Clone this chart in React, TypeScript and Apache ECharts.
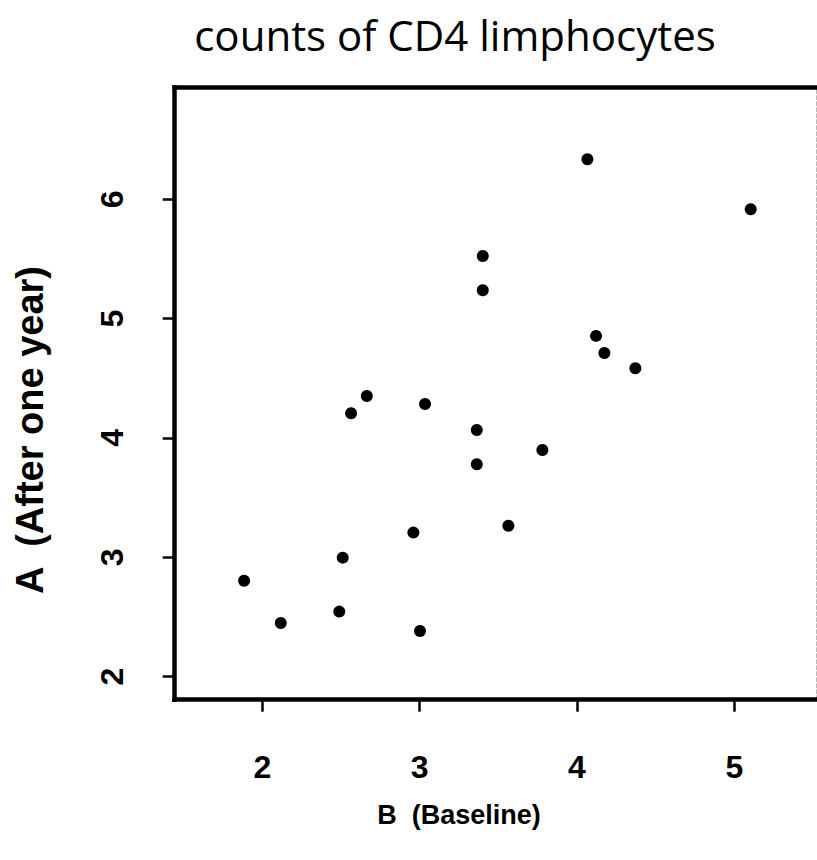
import React, { useEffect, useRef } from "react";
import * as echarts from "echarts";

const titleText = "counts of CD4 limphocytes";
const xAxisTitle = "B  (Baseline)";
const yAxisTitle = "A  (After one year)";

const baseline = [
  1.884, 2.117, 2.489, 2.511, 2.564, 2.664, 2.96, 3.002, 3.034, 3.363,
  3.363, 3.401, 3.401, 3.564, 3.78, 4.066, 4.121, 4.174, 4.371, 5.104,
];
const afterOneYear = [
  2.804, 2.45, 2.545, 2.997, 4.207, 4.352, 3.207, 2.383, 4.285, 4.067,
  3.78, 5.525, 5.238, 3.265, 3.899, 6.335, 4.855, 4.712, 4.584, 5.916,
];
const xTicks = [2, 3, 4, 5];
const yTicks = [2, 3, 4, 5, 6];

export default function App() {
  const ref = useRef<HTMLDivElement>(null);
  useEffect(() => {
    if (!ref.current) return;
    const chart = echarts.init(ref.current, null, { renderer: "svg" });
    const data = baseline.map((x, i) => [x, afterOneYear[i]]);
    const boldFont = "Liberation Sans";
    chart.setOption({
      animation: false,
      backgroundColor: "#ffffff",
      grid: { left: 174.7, top: 87.3, width: 641.3, height: 612.4, containLabel: false },
      xAxis: [
        {
          type: "value",
          position: "bottom",
          min: 1.443,
          max: 5.519,
          splitLine: { show: false },
          axisLine: { show: true, onZero: false, lineStyle: { color: "#000", width: 4.5, cap: "square" } },
          axisTick: { show: true, customValues: xTicks, length: 12, lineStyle: { color: "#000", width: 2.5 } },
          axisLabel: {
            customValues: xTicks,
            margin: 51,
            color: "#000",
            fontSize: 32,
            fontWeight: "bold",
            fontFamily: boldFont,
          },
        },
        {
          type: "value",
          position: "top",
          min: 1.443,
          max: 5.519,
          splitLine: { show: false },
          axisLine: { show: true, onZero: false, lineStyle: { color: "#000", width: 4.5, cap: "square" } },
          axisTick: { show: false },
          axisLabel: { show: false },
        },
      ],
      yAxis: [
        {
          type: "value",
          position: "left",
          min: 1.807,
          max: 6.938,
          splitLine: { show: false },
          axisLine: { show: true, onZero: false, lineStyle: { color: "#000", width: 4.5, cap: "square" } },
          axisTick: { show: true, customValues: yTicks, length: 12, lineStyle: { color: "#000", width: 2.5 } },
          axisLabel: {
            customValues: yTicks,
            rotate: 90,
            margin: 47,
            color: "#000",
            fontSize: 32,
            fontWeight: "bold",
            fontFamily: boldFont,
          },
        },
        {
          type: "value",
          position: "right",
          min: 1.807,
          max: 6.938,
          splitLine: { show: false },
          axisLine: { show: true, onZero: false, lineStyle: { color: "#bbb", width: 1, type: "dashed" } },
          axisTick: { show: false },
          axisLabel: { show: false },
        },
      ],
      series: [
        {
          type: "scatter",
          xAxisIndex: 0,
          yAxisIndex: 0,
          data,
          symbol: "circle",
          symbolSize: 12,
          itemStyle: { color: "#000", opacity: 1 },
        },
      ],
      graphic: [
        {
          type: "text",
          x: 455,
          y: 34,
          style: {
            text: titleText,
            fontSize: 42,
            fontFamily: "Open Sans",
            fill: "#000",
            textAlign: "center",
            textVerticalAlign: "middle",
          },
        },
        {
          type: "text",
          x: 459,
          y: 815,
          style: {
            text: xAxisTitle,
            fontSize: 27,
            fontWeight: "bold",
            fontFamily: boldFont,
            fill: "#000",
            textAlign: "center",
            textVerticalAlign: "middle",
          },
        },
        {
          type: "text",
          x: 30,
          y: 430,
          rotation: Math.PI / 2,
          style: {
            text: yAxisTitle,
            fontSize: 38,
            fontWeight: "bold",
            fontFamily: boldFont,
            fill: "#000",
            textAlign: "center",
            textVerticalAlign: "middle",
          },
        },
      ],
    });
    return () => chart.dispose();
  }, []);
  return (
    <div
      ref={ref}
      style={{ position: "fixed", left: 0, top: 0, width: 817, height: 860, background: "#fff" }}
    />
  );
}
